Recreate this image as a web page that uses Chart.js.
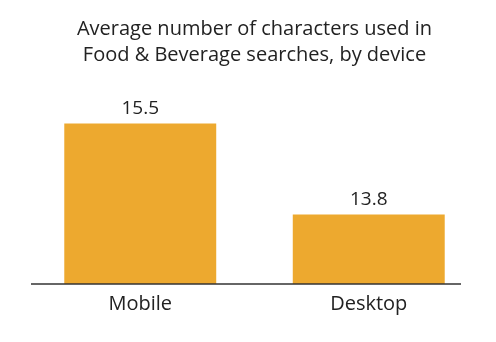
<!DOCTYPE html>
<html>
<head>
<meta charset="utf-8">
<script src="https://cdn.jsdelivr.net/npm/chart.js@4"></script>
<style>
  body { margin: 0; background: #fff; }
</style>
</head>
<body>
<canvas id="myChart" width="496" height="342"></canvas>
<script>
const devices = ['Mobile', 'Desktop'];
const avgChars = [15.5, 13.8];
const titleLines = ['Average number of characters used in', 'Food & Beverage searches, by device'];

const barColor = '#EDA92F';
const textColor = '#222222';
const fontFamily = '"Open Sans", Lato, sans-serif';

// value labels above each bar
const valueLabels = {
    id: 'valueLabels',
    afterDatasetsDraw(chart) {
        const ctx = chart.ctx;
        const meta = chart.getDatasetMeta(0);
        ctx.save();
        ctx.fillStyle = textColor;
        ctx.font = '19px ' + fontFamily;
        ctx.textAlign = 'center';
        ctx.textBaseline = 'bottom';
        meta.data.forEach((bar, i) => {
            ctx.fillText(avgChars[i].toFixed(1), bar.x, bar.y - 5);
        });
        ctx.restore();
    }
};

// short baseline under the bars
const baseLine = {
    id: 'baseLine',
    afterDatasetsDraw(chart) {
        const ctx = chart.ctx;
        const y = chart.chartArea.bottom;
        ctx.save();
        ctx.strokeStyle = '#333';
        ctx.lineWidth = 1.5;
        ctx.beginPath();
        ctx.moveTo(31, y);
        ctx.lineTo(461, y);
        ctx.stroke();
        ctx.restore();
    }
};

const ctx = document.getElementById('myChart').getContext('2d');
new Chart(ctx, {
    type: 'bar',
    data: {
        labels: devices,
        datasets: [{
            label: 'Average characters',
            data: avgChars,
            backgroundColor: barColor,
            categoryPercentage: 1,
            barPercentage: 0.665
        }]
    },
    options: {
        responsive: false,
        animation: false,
        layout: {
            padding: { left: 26, right: 13, top: 0, bottom: 26 }
        },
        plugins: {
            legend: { display: false },
            tooltip: { enabled: false },
            title: {
                display: true,
                text: titleLines,
                color: textColor,
                font: { family: fontFamily, size: 20, weight: 'normal', lineHeight: '26px' },
                padding: { top: 16, bottom: 2 }
            }
        },
        scales: {
            x: {
                grid: { display: false },
                border: { display: false },
                ticks: {
                    color: textColor,
                    padding: 0,
                    font: { family: fontFamily, size: 20 }
                }
            },
            y: {
                display: false,
                min: 12.5,
                max: 16.5
            }
        }
    },
    plugins: [valueLabels, baseLine]
});
</script>
</body>
</html>
